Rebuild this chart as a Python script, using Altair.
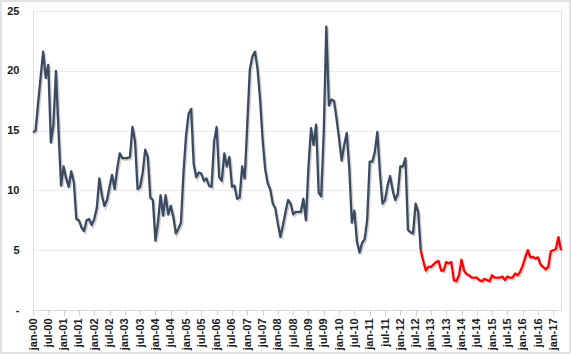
import altair as alt
import pandas as pd

# Monthly values, jan-00 .. apr-17
values = [
    14.85, 15.0, 17.3, 19.5, 21.6, 19.4, 20.5, 14.0, 15.5, 20.0, 15.0, 10.4,   # 2000
    12.0, 11.0, 10.3, 11.6, 10.7, 7.6, 7.5, 6.9, 6.6, 7.5, 7.6, 7.1,           # 2001
    7.6, 8.5, 11.0, 9.6, 8.7, 9.2, 10.3, 11.3, 10.1, 11.8, 13.1, 12.7,         # 2002
    12.7, 12.7, 12.8, 15.3, 14.1, 10.1, 10.3, 11.5, 13.4, 12.8, 9.4, 9.2,      # 2003
    5.8, 7.3, 9.6, 7.9, 9.6, 8.0, 8.7, 7.8, 6.4, 6.8, 7.3, 11.5,               # 2004
    14.6, 16.4, 16.8, 12.2, 11.1, 11.5, 11.4, 10.8, 11.0, 10.4, 10.3, 14.1,    # 2005
    15.3, 11.1, 10.8, 13.1, 12.0, 12.8, 10.3, 10.4, 9.3, 9.4, 12.0, 11.0,      # 2006
    15.5, 20.1, 21.2, 21.6, 20.2, 17.7, 14.3, 11.8, 10.6, 10.1, 8.9, 8.5,      # 2007
    7.2, 6.1, 7.1, 8.2, 9.2, 8.9, 8.0, 8.2, 8.2, 8.2, 9.3, 7.5,                # 2008
    12.0, 15.2, 13.8, 15.5, 9.8, 9.5, 15.0, 23.7, 17.1, 17.6, 17.5, 16.0,      # 2009
    14.3, 12.5, 13.8, 14.8, 11.8, 7.3, 8.3, 5.7, 4.8, 5.6, 5.9, 7.5,           # 2010
    12.4, 12.4, 13.2, 14.9, 11.5, 8.9, 9.2, 10.4, 11.2, 10.0, 9.2, 9.7,        # 2011
    12.0, 12.0, 12.7, 6.7, 6.5, 6.4, 8.9, 8.2, 5.0, 4.1, 3.3, 3.6,             # 2012
    3.6, 3.8, 4.0, 4.1, 3.3, 3.3, 4.0, 3.9, 4.0, 2.5, 2.4, 2.9,                # 2013
    4.2, 3.3, 3.0, 2.9, 2.7, 2.7, 2.7, 2.5, 2.4, 2.6, 2.5, 2.4,                # 2014
    2.9, 2.7, 2.7, 2.7, 2.8, 2.5, 2.8, 2.7, 2.7, 3.05, 2.9, 3.2,               # 2015
    3.7, 4.4, 5.0, 4.4, 4.45, 4.3, 4.4, 3.8, 3.6, 3.4, 3.6, 4.9,               # 2016
    5.0, 5.1, 6.1, 5.0,                                                        # 2017
]
red_start = 152  # sep-12: line turns red from here

tick_labels = [
    "jan-00", "jul-00", "jan-01", "jul-01", "jan-02", "jul-02", "jan-03", "jul-03",
    "jan-04", "jul-04", "jan-05", "jul-05", "jan-06", "jul-06", "jan-07", "jul-07",
    "jan-08", "jul-08", "jan-09", "jul-09", "jan-10", "jul-10", "jan-11", "jul-11",
    "jan-12", "jul-12", "jan-13", "jul-13", "jan-14", "jul-14", "jan-15", "jul-15",
    "jan-16", "jul-16", "jan-17",
]
y_ticks = [0, 5, 10, 15, 20, 25]

rows = []
for i, v in enumerate(values):
    if i <= red_start:
        rows.append({"m": i, "v": v, "s": "hist"})
    if i >= red_start:
        rows.append({"m": i, "v": v, "s": "recent"})
df = pd.DataFrame(rows)

tick_vals = [6 * i for i in range(len(tick_labels))]
label_arr = "[" + ",".join("'%s'" % t for t in tick_labels) + "]"

W, H = 528, 299
FONT = "Liberation Sans"

x_enc = alt.X(
    "m:Q",
    scale=alt.Scale(domain=[0, len(values) - 1], nice=False, zero=False),
    axis=alt.Axis(
        values=tick_vals,
        labelExpr=label_arr + "[round(datum.value/6)]",
        labelAngle=270,
        labelFont=FONT,
        labelFontWeight="bold",
        labelFontSize=11,
        labelColor="#1a1a1a",
        labelPadding=3,
        tickColor="#d0d0d0",
        tickSize=5,
        domainColor="#d9d9d9",
        grid=False,
        title=None,
        labelOverlap=False,
    ),
)
y_enc = alt.Y(
    "v:Q",
    scale=alt.Scale(domain=[0, 25], nice=False),
    axis=alt.Axis(
        values=y_ticks,
        labelExpr="datum.value == 0 ? '-' : datum.label",
        labelFont=FONT,
        labelFontWeight="bold",
        labelFontSize=11,
        labelColor="#1a1a1a",
        labelPadding=14,
        ticks=False,
        domain=False,
        gridColor="#ebebeb",
        gridWidth=1,
        title=None,
    ),
)

shadow = alt.Chart(df).mark_line(
    strokeWidth=2.4, color="#9a9a9a", opacity=0.45, xOffset=1.3, yOffset=1.6
).encode(x=x_enc, y=y_enc, detail="s:N")

lines = alt.Chart(df).mark_line(strokeWidth=2.3, strokeJoin="round").encode(
    x=x_enc,
    y=y_enc,
    color=alt.Color(
        "s:N",
        scale=alt.Scale(domain=["hist", "recent"], range=["#3b4a63", "#ff0000"]),
        legend=None,
    ),
)

border = alt.Chart(pd.DataFrame({"a": [0]})).mark_rect(
    fill=None, stroke="#d9d9d9", strokeWidth=1.5
).encode(
    x=alt.value(-32), x2=alt.value(W + 9), y=alt.value(-10), y2=alt.value(H + 43)
)

chart = alt.layer(border, shadow, lines).properties(
    width=W, height=H,
    autosize=alt.AutoSizeParams(type="none"),
    padding={"left": 33, "top": 11, "right": 10, "bottom": 44},
).configure_view(stroke=None).configure(background="white")

chart.save("out.html", embed_options={"renderer": "svg", "actions": False})
